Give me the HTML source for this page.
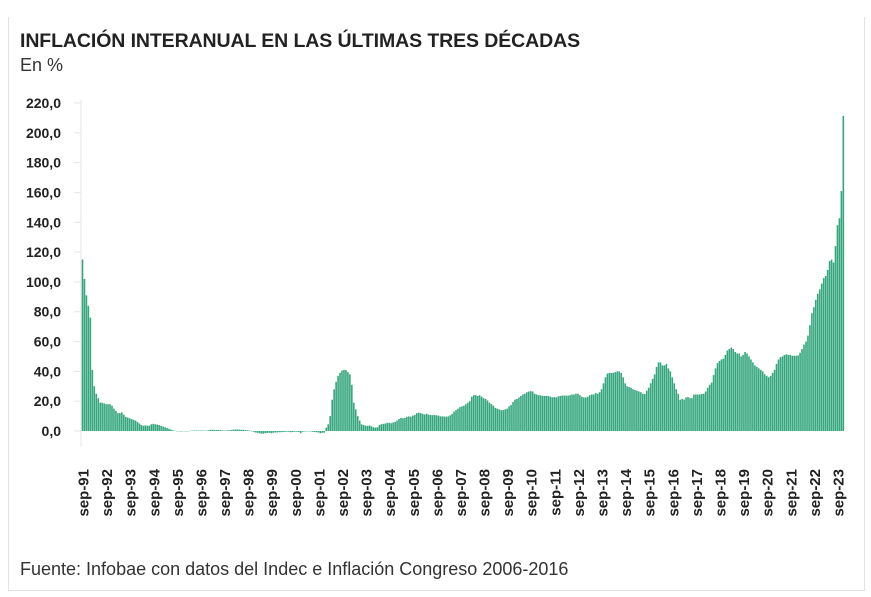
<!DOCTYPE html>
<html><head><meta charset="utf-8">
<style>
html,body{margin:0;padding:0;background:#fff;}
body{width:871px;height:597px;overflow:hidden;position:relative;font-family:"Liberation Sans",sans-serif;}
.frame{position:absolute;left:8px;top:17px;width:855px;height:573px;border:1px solid #e2e2e2;border-top:none;}
.title{position:absolute;left:20px;top:30px;font-size:19.5px;font-weight:bold;color:#222;letter-spacing:-0.1px;}
.sub{position:absolute;left:20px;top:55px;font-size:18px;color:#333;}
.foot{position:absolute;left:20px;top:559px;font-size:18px;color:#333;}
svg{position:absolute;left:0;top:0;}
</style></head><body>
<div class="frame"></div>
<div class="title">INFLACIÓN INTERANUAL EN LAS ÚLTIMAS TRES DÉCADAS</div>
<div class="sub">En %</div>
<svg id="chart" width="871" height="597"></svg>
<div class="foot">Fuente: Infobae con datos del Indec e Inflación Congreso 2006-2016</div>
<script>
const yTicks = [0,20,40,60,80,100,120,140,160,180,200,220];
const xTickLabels = ["sep-91","sep-92","sep-93","sep-94","sep-95","sep-96","sep-97","sep-98","sep-99","sep-00","sep-01","sep-02","sep-03","sep-04","sep-05","sep-06","sep-07","sep-08","sep-09","sep-10","sep-11","sep-12","sep-13","sep-14","sep-15","sep-16","sep-17","sep-18","sep-19","sep-20","sep-21","sep-22","sep-23"];
const inflation = [
115,102,91,84,76,41,30,25,22,19,19,18.5,
18,18,18,17,15,13.5,12,12,12.5,11,9.5,9,
8.5,8,7.5,7,6,5,4,3.5,3.8,3.5,3.6,4.5,
4.8,4.5,4.3,4,3.5,3,2.5,2,1.5,1,0.5,0.2,
0,-0.2,-0.3,-0.2,0,0,0,0.2,0.3,0.3,0.3,0.3,
0.3,0.3,0.2,0.2,0.5,0.8,0.8,0.8,0.7,0.7,0.6,0.5,
0.3,0.4,0.5,0.5,0.8,1,1,1,0.9,0.8,0.8,0.6,
0.5,0.3,0,-0.5,-1,-1.2,-1.5,-1.8,-1.8,-1.5,-1.3,-1.2,
-1.5,-1.2,-1,-1,-0.8,-0.8,-0.7,-0.6,-0.5,-0.6,-0.8,-0.7,
-0.5,-0.5,-0.7,-1.5,-0.5,-0.3,-0.3,-0.2,-0.3,-0.5,-0.7,-0.8,
-1,-1.5,-1.2,-1.1,2.3,4.5,10,21,28,33,37,39,
40.5,41,40.9,39.5,38,31,19,14.5,10,7,4.5,4,
3.5,3.5,3.7,3.2,2.5,2.3,2.5,4,4.5,4.8,5,5.5,
5.5,5.2,5.7,6.1,7,8,8.8,8.5,8.7,9.5,9.8,9.6,
10.3,10.7,12,12.3,12,11.5,11.1,11.5,11,10.8,10.6,10.7,
10.5,10.4,9.8,9.8,9.7,9.6,9.8,10.5,11.5,13,14,15,
16,16.5,17,18,19,20,23,24,24,23.5,24,23,
22,21.5,20.5,19,18,17,15.5,15,14.5,14,14,14.5,
15,16.5,17.5,19.5,21,21.5,22.5,23.5,24.5,25,26,26.5,
26.7,26.5,25,24.5,24,24,23.5,23.5,23.5,23.5,23,22.5,
22.8,22.5,23.2,23.5,23.8,23.8,23.8,23.8,24,24.5,24.5,25,
25,24,23,22.5,22.5,23,24,24.5,24.5,25.5,25,26,
28,32,36,38.5,39,39,39,39.5,40,40,39,36,
32,30,29.5,29,28,27.5,27,26.5,26,25,24.8,27,
29,32,35,38,43,46,46,44,44,45,42,40,
36,32,28,25,21,21.5,21,22.5,22.8,22,22,24.5,
24.5,24.5,24.5,24.8,25,26.5,29,31,32.5,37.5,42,45.5,
47,48,48.5,51,54,55,56,55,53,52,52,50,
51,53,52,50,48,46,44,43,42,41,40,38,
37,36,37,39,41,45,48,49.5,50,51,51.5,51,
51,50.5,50.5,50.5,50.7,52.5,55,58,60,64,71,79,
83,88,92,95,98.8,102.5,104,108,114,115,113,124,
138,142.7,160.9,211.4
];
const svg = document.getElementById('chart');
const NS = 'http://www.w3.org/2000/svg';
const x0 = 82.5, step = 1.966, yZero = 431, yPer = 328/220;
const xScale = i => x0 + i*step;
const yScale = v => yZero - v*yPer;
function mk(tag, attrs){const e=document.createElementNS(NS,tag);for(const k in attrs)e.setAttribute(k,attrs[k]);svg.appendChild(e);return e;}
const ax = mk('line',{x1:81,x2:81,y1:100,y2:447,stroke:'#e6e6e6','stroke-width':1});


yTicks.forEach(t=>{
  const y=yScale(t);
  const tk=mk('line',{x1:74,x2:81,y1:y,y2:y,stroke:'#e6e6e6'});
  
  
  const tx=mk('text',{x:61,y:y+5,'text-anchor':'end','font-size':14,'font-weight':'bold',fill:'#222','font-family':'Liberation Sans, sans-serif'});
  tx.textContent=t.toFixed(1).replace('.',',');
  
  
});
inflation.forEach((v,i)=>{
  const x=xScale(i)-0.8;
  const y1=yScale(Math.max(v,0)), y2=yScale(Math.min(v,0));
  const r=mk('rect',{x:x,y:y1,width:1.6,height:Math.max(y2-y1,0.3),fill:'#34a67d'});
  
  
});
xTickLabels.forEach((lab,k)=>{
  const x=xScale(k*12)+6;
  const t=mk('text',{x:0,y:0,transform:`translate(${x},469) rotate(-90)`,'text-anchor':'end','font-size':15,'font-weight':'bold',fill:'#222','font-family':'Liberation Sans, sans-serif'});
  t.textContent=lab;
  
  
});
</script>
</body></html>
